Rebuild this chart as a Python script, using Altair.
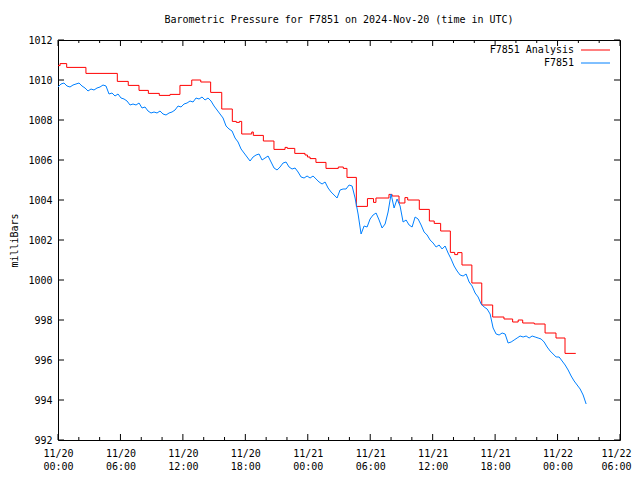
import altair as alt
import pandas as pd

# ---------------- data ----------------
# F7851 observations, one value every 1038 s (17.3 min) from 2024-11-20 00:00 UTC
blue_step_seconds = 1038
blue_values = [
    1009.65, 1009.8, 1009.85, 1009.7, 1009.65, 1009.75, 1009.8, 1009.85, 1009.7, 1009.6,
    1009.45, 1009.55, 1009.5, 1009.6, 1009.65, 1009.75, 1009.7, 1009.3, 1009.35, 1009.2,
    1009.3, 1009.1, 1009.05, 1008.95, 1008.75, 1008.8, 1008.75, 1008.85, 1008.6, 1008.65,
    1008.45, 1008.35, 1008.4, 1008.35, 1008.45, 1008.3, 1008.25, 1008.35, 1008.4, 1008.5,
    1008.7, 1008.65, 1008.8, 1008.85, 1008.95, 1008.9, 1009.1, 1009.05, 1009.15, 1009.0,
    1009.1, 1008.95, 1008.7, 1008.5, 1008.3, 1008.1, 1007.7, 1007.55, 1007.45, 1007.1,
    1006.9, 1006.55, 1006.35, 1006.15, 1005.95, 1006.15, 1006.25, 1006.3, 1006.0, 1006.1,
    1006.2, 1005.9, 1005.6, 1005.5, 1005.65, 1005.85, 1005.9, 1005.65, 1005.55, 1005.6,
    1005.4, 1005.15, 1005.1, 1005.2, 1005.1, 1005.2, 1005.05, 1004.9, 1004.8, 1004.9,
    1004.6, 1004.4, 1004.25, 1004.1, 1004.5, 1004.55, 1004.55, 1004.75, 1004.7, 1004.1,
    1003.3, 1002.3, 1002.7, 1002.65, 1003.05, 1003.25, 1003.35, 1003.0, 1002.6, 1002.8,
    1003.4, 1004.3, 1003.6, 1004.05, 1003.7, 1002.9, 1003.0, 1002.75, 1002.65, 1003.15,
    1003.05, 1002.75, 1002.4, 1002.25, 1002.0, 1001.85, 1001.65, 1001.75, 1001.55, 1001.7,
    1001.35, 1001.05, 1000.7, 1000.45, 1000.25, 1000.2, 1000.3, 999.9, 999.7, 999.35,
    999.15, 998.8, 998.65, 998.55, 998.3, 997.6, 997.3, 997.25, 997.35, 997.3,
    996.85, 996.9, 997.0, 997.1, 997.2, 997.15, 997.2, 997.1, 997.2, 997.15,
    997.1, 997.05, 996.9, 996.65, 996.45, 996.3, 996.15, 996.15, 995.95, 995.75,
    995.5, 995.2, 994.95, 994.75, 994.55, 994.25, 993.8,
]

# F7851 Analysis: step values, minutes since 2024-11-20 00:00 UTC
red_minutes = [
    0, 12, 50, 161, 342, 405, 467, 521, 584, 646,
    703, 771, 823, 880, 944, 1005, 1028, 1046, 1059, 1117,
    1126, 1184, 1245, 1309, 1322, 1365, 1424, 1438, 1453, 1487,
    1545, 1616, 1645, 1666, 1720, 1784, 1819, 1833, 1908, 1926,
    1966, 2000, 2016, 2083, 2141, 2169, 2206, 2262, 2287, 2304,
    2329, 2386, 2443, 2506, 2571, 2621, 2653, 2679, 2746, 2808,
    2871, 2923, 2985,
]
red_values = [
    1010.72, 1010.82, 1010.63, 1010.33, 1009.93, 1009.73, 1009.48, 1009.33, 1009.23, 1009.28,
    1009.73, 1010.0, 1009.9, 1009.38, 1008.55, 1007.93, 1007.88, 1007.93, 1007.3, 1007.4,
    1007.23, 1006.95, 1006.53, 1006.63, 1006.58, 1006.33, 1006.25, 1006.15, 1006.07, 1005.88,
    1005.58, 1005.65, 1005.58, 1005.13, 1003.68, 1004.07, 1003.88, 1004.1, 1004.28, 1004.2,
    1003.85, 1004.12, 1004.0, 1003.53, 1002.95, 1002.83, 1002.45, 1001.38, 1001.27, 1001.37,
    1000.75, 999.85, 998.75, 998.15, 998.05, 997.9, 998.0, 997.85, 997.8, 997.35,
    997.1, 996.33, 996.33,
]

series_names = ["F7851 Analysis", "F7851"]
series_colors = ["#ff0000", "#0080ff"]
y_tick_values = [992, 994, 996, 998, 1000, 1002, 1004, 1006, 1008, 1010, 1012]
major_tick_hours = [0, 6, 12, 18, 24, 30, 36, 42, 48, 54]
minor_tick_hours = [2, 4, 8, 10, 14, 16, 20, 22, 26, 28, 32, 34, 38, 40, 44, 46, 50, 52]

# ---------------- tables ----------------
start = pd.Timestamp("2024-11-20 00:00:00")
FMT = "%Y-%m-%dT%H:%M:%SZ"


def iso(ts):
    return ts.strftime(FMT)


def ms(hours):
    return int((pd.Timestamp("2024-11-20 00:00:00", tz="UTC") + pd.Timedelta(hours=hours)).value // 10**6)


blue_df = pd.DataFrame({
    "time": [iso(start + pd.Timedelta(seconds=blue_step_seconds * i)) for i in range(len(blue_values))],
    "value": blue_values,
})
red_df = pd.DataFrame({
    "time": [iso(start + pd.Timedelta(minutes=m)) for m in red_minutes],
    "value": red_values,
})
major_df = pd.DataFrame({"time": [iso(start + pd.Timedelta(hours=h)) for h in major_tick_hours]})
minor_df = pd.DataFrame({"time": [iso(start + pd.Timedelta(hours=h)) for h in minor_tick_hours]})
ytick_df = pd.DataFrame({"value": y_tick_values})

FONT = "DejaVu Sans Mono"
W, H = 562, 400
last_tick = ms(major_tick_hours[-1])

x_scale = alt.Scale(type="utc", domain=[ms(0), last_tick], nice=False)
y_scale = alt.Scale(domain=[992, 1012], nice=False, zero=False)

x_axis = alt.Axis(
    values=[ms(h) for h in major_tick_hours],
    labelExpr="[utcFormat(datum.value, '%m/%d'), utcFormat(datum.value, '%H:%M')]",
    title=None, grid=False, ticks=False, domain=False,
    labelFont=FONT, labelFontSize=10, labelColor="black",
    labelPadding=8, labelLineHeight=13, labelFlush=False, labelOverlap=False,
    labelOffset={"condition": {"test": f"datum.value >= {last_tick}", "value": -4}, "value": 0},
)
y_axis = alt.Axis(
    values=y_tick_values, format="d",
    title="milliBars", titleFont=FONT, titleFontSize=10, titleFontWeight="normal",
    titleColor="black", titleX=-44, titleY=H / 2, titleAngle=270,
    titleAlign="center", titleBaseline="middle",
    grid=False, ticks=False, domain=False,
    labelFont=FONT, labelFontSize=10, labelColor="black", labelPadding=6,
)

x_enc = alt.X("time:T", scale=x_scale, axis=x_axis)
y_enc = alt.Y("value:Q", scale=y_scale, axis=y_axis)

red_line = alt.Chart(red_df).mark_line(
    interpolate="step-after", color=series_colors[0], strokeWidth=1
).encode(x=x_enc, y=y_enc)

blue_line = alt.Chart(blue_df).mark_line(
    color=series_colors[1], strokeWidth=1
).encode(x=x_enc, y=y_enc)

maj_bottom = alt.Chart(major_df).mark_rule(color="black", strokeWidth=1).encode(
    x=x_enc, y=alt.value(H), y2=alt.value(H - 6))
maj_top = alt.Chart(major_df).mark_rule(color="black", strokeWidth=1).encode(
    x=x_enc, y=alt.value(0), y2=alt.value(6))
min_bottom = alt.Chart(minor_df).mark_rule(color="black", strokeWidth=1).encode(
    x=x_enc, y=alt.value(H), y2=alt.value(H - 3))
min_top = alt.Chart(minor_df).mark_rule(color="black", strokeWidth=1).encode(
    x=x_enc, y=alt.value(0), y2=alt.value(3))
y_left = alt.Chart(ytick_df).mark_rule(color="black", strokeWidth=1).encode(
    y=y_enc, x=alt.value(0), x2=alt.value(6))
y_right = alt.Chart(ytick_df).mark_rule(color="black", strokeWidth=1).encode(
    y=y_enc, x=alt.value(W), x2=alt.value(W - 6))

legend_layers = []
for i, (name, col) in enumerate(zip(series_names, series_colors)):
    df = pd.DataFrame({"name": [name]})
    ypos = 10 + 13 * i
    legend_layers.append(
        alt.Chart(df).mark_text(align="right", baseline="middle", font=FONT, fontSize=10,
                                color="black").encode(
            text="name:N", x=alt.value(516), y=alt.value(ypos))
    )
    legend_layers.append(
        alt.Chart(df).mark_rule(color=col, strokeWidth=1).encode(
            x=alt.value(523), x2=alt.value(552), y=alt.value(ypos))
    )

chart = alt.layer(
    red_line, blue_line, maj_bottom, maj_top, min_bottom, min_top, y_left, y_right,
    *legend_layers,
).properties(
    width=W, height=H,
    title=alt.Title(
        "Barometric Pressure for F7851 on 2024-Nov-20 (time in UTC)",
        font=FONT, fontSize=10, fontWeight="normal", color="black",
        anchor="middle", offset=10,
    ),
    padding={"left": 50, "top": 32, "right": 12, "bottom": 32},
    autosize=alt.AutoSizeParams(type="none"),
    background="white",
).configure_view(stroke="black", strokeWidth=1)

chart.save("out.html", embed_options={"renderer": "svg", "actions": False})
